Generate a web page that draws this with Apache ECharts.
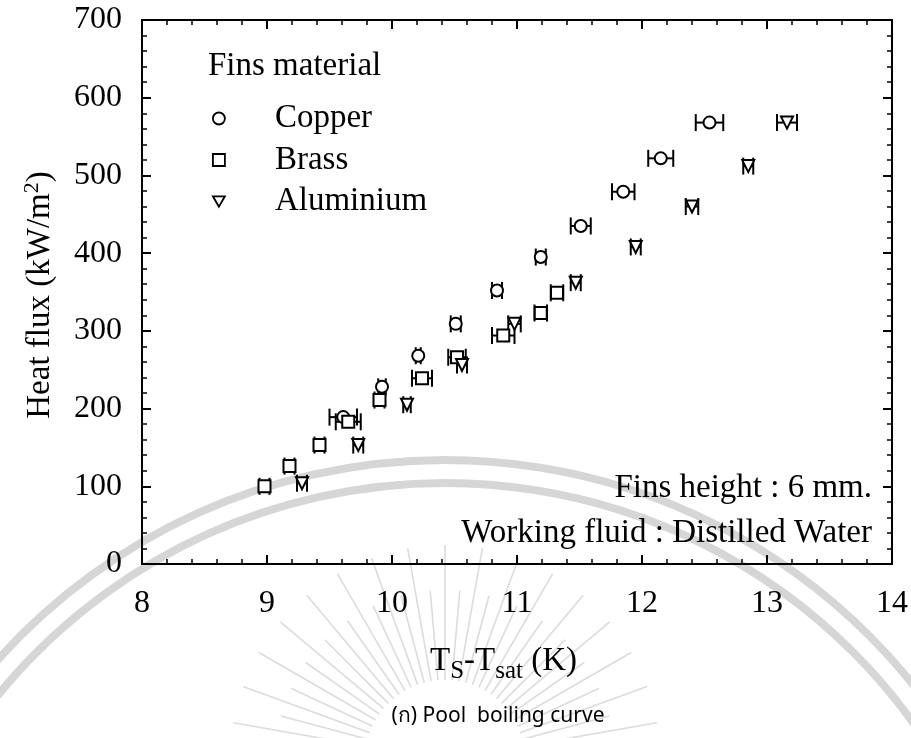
<!DOCTYPE html>
<html>
<head>
<meta charset="utf-8">
<script src="https://cdn.jsdelivr.net/npm/echarts@6/dist/echarts.min.js"></script>
<style>
  html, body { margin: 0; padding: 0; background: #fff; }
  #chart { width: 911px; height: 738px; }
</style>
</head>
<body>
<div id="chart"></div>
<script>
// Wall superheat Ts - Tsat (K) against heat flux (kW/m2) for each fin material.
// *Err holds the half-width of the horizontal error bar on each point (K).
const copperDT  = [9.61, 9.92, 10.21, 10.51, 10.84, 11.19, 11.51, 11.85, 12.15, 12.54];
const copperQ   = [189, 228, 268, 309, 352, 395, 435, 479, 522, 568];
const copperErr = [0.11, 0.03, 0.02, 0.04, 0.04, 0.04, 0.08, 0.09, 0.10, 0.11];

const brassDT   = [8.98, 9.18, 9.42, 9.65, 9.90, 10.24, 10.52, 10.89, 11.19, 11.32];
const brassQ    = [100, 126, 153, 183, 211, 239, 266, 294, 323, 349];
const brassErr  = [0.04, 0.04, 0.04, 0.10, 0.04, 0.08, 0.07, 0.09, 0.05, 0.05];

const aluDT     = [9.28, 9.73, 10.12, 10.56, 10.98, 11.47, 11.95, 12.40, 12.85, 13.16];
const aluQ      = [104, 153, 205, 256, 309, 362, 408, 460, 512, 568];
const aluErr    = [0.04, 0.04, 0.03, 0.04, 0.05, 0.04, 0.04, 0.05, 0.04, 0.08];

// Axis tick values
const xTicks = [8, 9, 10, 11, 12, 13, 14];
const yTicks = [0, 100, 200, 300, 400, 500, 600, 700];

const SERIF = '"Liberation Serif", "Times New Roman", serif';
const downTriangle = 'path://M0,0 L12,0 L6,10.4 Z';

function axisCommon(showLabel, margin) {
  return {
    type: 'value',
    axisLine: { show: true, onZero: false, lineStyle: { color: '#000', width: 2 } },
    axisTick: { show: true, inside: true, length: 9, lineStyle: { color: '#000', width: 2 } },
    minorTick: { show: true, splitNumber: 5, length: 5, lineStyle: { color: '#000', width: 1.5 } },
    splitLine: { show: false },
    axisLabel: { show: showLabel, color: '#000', fontFamily: SERIF, fontSize: 32, margin: margin }
  };
}

function xAxisAt(position, showLabel) {
  return Object.assign(axisCommon(showLabel, 24), {
    position: position,
    min: xTicks[0], max: xTicks[xTicks.length - 1], interval: xTicks[1] - xTicks[0]
  });
}
function yAxisAt(position, showLabel) {
  return Object.assign(axisCommon(showLabel, 20), {
    position: position,
    min: yTicks[0], max: yTicks[yTicks.length - 1], interval: yTicks[1] - yTicks[0]
  });
}

// Horizontal error bars with end caps
function errorBars(xs, ys, errs) {
  return {
    type: 'custom',
    silent: true,
    z: 2,
    xAxisIndex: 0, yAxisIndex: 0,
    data: xs.map((x, i) => [x - errs[i], x + errs[i], ys[i]]),
    encode: { x: [0, 1], y: 2 },
    renderItem: function (params, api) {
      const a = api.coord([api.value(0), api.value(2)]);
      const b = api.coord([api.value(1), api.value(2)]);
      const h = 8.5;
      const st = { stroke: '#000', lineWidth: 2 };
      return {
        type: 'group',
        children: [
          { type: 'line', shape: { x1: a[0], y1: a[1], x2: b[0], y2: b[1] }, style: st },
          { type: 'line', shape: { x1: a[0], y1: a[1] - h, x2: a[0], y2: a[1] + h }, style: st },
          { type: 'line', shape: { x1: b[0], y1: b[1] - h, x2: b[0], y2: b[1] + h }, style: st }
        ]
      };
    }
  };
}

function points(name, symbol, xs, ys) {
  return {
    name: name,
    type: 'scatter',
    z: 3,
    xAxisIndex: 0, yAxisIndex: 0,
    symbol: symbol,
    symbolSize: 12,
    itemStyle: { color: '#fff', borderColor: '#000', borderWidth: 2, opacity: 1 },
    data: xs.map((x, i) => [x, ys[i]])
  };
}

// Faint emblem behind the plot: two arc bands and a fan of rays
const emblem = [];
const cx = 445, cy = 1060;
[600, 577].forEach(r => emblem.push({
  type: 'arc', silent: true, z: -10,
  shape: { cx: cx, cy: cy, r: r, startAngle: Math.PI * 1.05, endAngle: Math.PI * 1.95 },
  style: { stroke: '#d6d6d6', lineWidth: 8, fill: null }
}));
const rc = [445, 760];
for (let k = 0; k <= 36; k++) {
  const ang = Math.PI * (1.0 + k / 36);
  const r0 = 80, r1 = (k % 2 ? 170 : 215);
  emblem.push({
    type: 'line', silent: true, z: -10,
    shape: {
      x1: rc[0] + r0 * Math.cos(ang), y1: rc[1] + r0 * Math.sin(ang),
      x2: rc[0] + r1 * Math.cos(ang), y2: rc[1] + r1 * Math.sin(ang)
    },
    style: { stroke: '#dcdcdc', lineWidth: 1.6 }
  });
}

const chart = echarts.init(document.getElementById('chart'), null, { renderer: 'canvas' });
chart.setOption({
  animation: false,
  backgroundColor: '#fff',
  grid: { left: 142, right: 18, top: 20, bottom: 174, containLabel: false },
  xAxis: [xAxisAt('bottom', true), xAxisAt('top', false)],
  yAxis: [yAxisAt('left', true), yAxisAt('right', false)],
  legend: {
    left: 207, top: 97,
    orient: 'vertical',
    itemWidth: 12, itemHeight: 12,
    itemGap: 8.5,
    itemStyle: { borderWidth: 1.8 },
    textStyle: { fontFamily: SERIF, fontSize: 33, color: '#000', padding: [0, 0, 0, 45] },
    selectedMode: false,
    data: ['Copper', 'Brass', 'Aluminium']
  },
  graphic: emblem.concat([
    {
      type: 'text', left: 208, top: 50, z: 10,
      style: { text: 'Fins material', font: '33px ' + SERIF, fill: '#000' }
    },
    {
      type: 'text', z: 10, x: 872, y: 472,
      style: { text: 'Fins height : 6 mm.', font: '33px ' + SERIF, fill: '#000', align: 'right', verticalAlign: 'top' }
    },
    {
      type: 'text', z: 10, x: 872, y: 517,
      style: { text: 'Working fluid : Distilled Water', font: '33px ' + SERIF, fill: '#000', align: 'right', verticalAlign: 'top' }
    },
    {
      type: 'text', z: 10, x: 430, y: 645,
      style: {
        text: '{m|T}{s|S}{m|-T}{s|sat}{m| (K)}',
        rich: {
          m: { fontFamily: SERIF, fontSize: 33, fill: '#000', verticalAlign: 'top' },
          s: { fontFamily: SERIF, fontSize: 25, fill: '#000', padding: [14, 0, 0, 0] }
        }
      }
    },
    {
      type: 'text', z: 10, x: 40, y: 295, rotation: Math.PI / 2,
      style: {
        text: '{m|Heat flux (kW/m}{p|2}{m|)}',
        align: 'center', verticalAlign: 'middle',
        rich: {
          m: { fontFamily: SERIF, fontSize: 33, fill: '#000' },
          p: { fontFamily: SERIF, fontSize: 22, fill: '#000', padding: [0, 0, 16, 0] }
        }
      }
    },
    {
      type: 'text', z: 10, x: 498, y: 716,
      style: { text: '(ก) Pool  boiling curve', font: '21px "Noto Sans", "DejaVu Sans", sans-serif', fill: '#000', align: 'center', verticalAlign: 'middle' }
    }
  ]),
  series: [
    errorBars(copperDT, copperQ, copperErr),
    errorBars(brassDT, brassQ, brassErr),
    errorBars(aluDT, aluQ, aluErr),
    points('Copper', 'circle', copperDT, copperQ),
    points('Brass', 'rect', brassDT, brassQ),
    points('Aluminium', downTriangle, aluDT, aluQ)
  ]
});
</script>
</body>
</html>
